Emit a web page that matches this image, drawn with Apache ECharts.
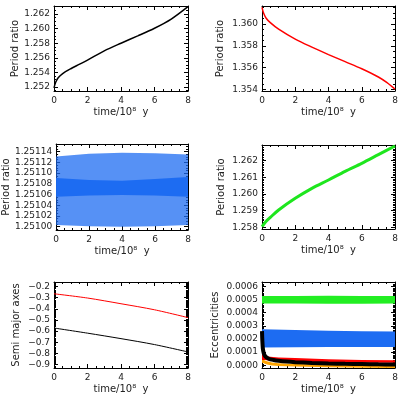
<!DOCTYPE html>
<html>
<head>
<meta charset="utf-8">
<title>Period ratios, semi major axes and eccentricities</title>
<script src="https://cdn.jsdelivr.net/npm/echarts@6/dist/echarts.min.js"></script>
<style>html,body{margin:0;padding:0;background:#fff;}</style>
</head>
<body>
<div id="main" style="width:402px;height:399px;"></div>
<script type="text/javascript">
    // time axis (10^8 yr) ticks
    var timeTicks = [0, 2, 4, 6, 8];

    // top left: period ratio (black)
    var tA = [0, 0.1, 0.25, 0.5, 1, 1.5, 2, 3, 4, 5, 6, 7, 8];
    var ratioBlack = [1.25188, 1.25265, 1.25326, 1.25381, 1.2545, 1.25509, 1.25568, 1.25695, 1.25800, 1.25900, 1.26005, 1.26131, 1.26301];
    var ticksA = [1.252, 1.254, 1.256, 1.258, 1.260, 1.262];

    // top right: period ratio (red)
    var tB = [0, 0.1, 0.25, 0.5, 1, 2, 3, 4, 5, 6, 7, 7.5, 8];
    var ratioRed = [1.36152, 1.36097, 1.36052, 1.36012, 1.35952, 1.35861, 1.35788, 1.35720, 1.35655, 1.35590, 1.35515, 1.35465, 1.35404];
    var ticksB = [1.354, 1.356, 1.358, 1.360];

    // middle left: period ratio cloud (blue), sparse envelope and dense core
    var tC = [0, 2, 4, 6, 8];
    var cloudLow = [1.251003, 1.251001, 1.251000, 1.251001, 1.251003];
    var cloudHigh = [1.251131, 1.251136, 1.251138, 1.251137, 1.251135];
    var coreLow = [1.251056, 1.251058, 1.251059, 1.251058, 1.251056];
    var coreHigh = [1.251091, 1.251087, 1.251086, 1.251089, 1.251093];
    var ticksC = [1.25100, 1.25102, 1.25104, 1.25106, 1.25108, 1.25110, 1.25112, 1.25114];

    // middle right: period ratio (green)
    var tD = [0, 0.25, 0.5, 1, 2, 3, 4, 5, 6, 7, 8];
    var ratioGreen = [1.25804, 1.25836, 1.2586, 1.25904, 1.25974, 1.26034, 1.26084, 1.26136, 1.26184, 1.26236, 1.26288];
    var ticksD = [1.258, 1.259, 1.260, 1.261, 1.262];

    // bottom left: semi major axes
    var tE = [0, 2, 4, 6, 8];
    var semiRed = [-0.266, -0.304, -0.355, -0.409, -0.479];
    var semiBlack = [-0.572, -0.618, -0.667, -0.72, -0.786];
    var ticksE = [-0.9, -0.8, -0.7, -0.6, -0.5, -0.4, -0.3, -0.2];

    // bottom right: eccentricities
    var tF = [0, 2, 4, 6, 8];
    var eccGreenLow = [0.000470, 0.000470, 0.000469, 0.000469, 0.000470];
    var eccGreenHigh = [0.000528, 0.000528, 0.000529, 0.000528, 0.000528];
    var eccBlueLow = [0.000135, 0.000138, 0.000140, 0.000140, 0.000140];
    var eccBlueHigh = [0.000275, 0.000268, 0.000263, 0.000260, 0.000257];
    var tRed = [0, 0.2, 0.5, 1, 2, 4, 6, 8];
    var eccRedLow = [0.00004, 0.00004, 0.000035, 0.00003, 0.000025, 0.00002, 0.00002, 0.00002];
    var eccRedHigh = [0.00009, 0.00007, 0.000065, 0.00006, 0.000055, 0.000045, 0.00004, 0.000038];
    var tOrange = [0, 0.1, 0.3, 0.6, 1, 2, 4, 6, 8];
    var eccOrangeLow = [0.00002, 0.000015, 0.000005, -0.000002, -0.000006, -0.00001, -0.000015, -0.000018, -0.00002];
    var eccOrangeHigh = [0.00005, 0.00004, 0.00003, 0.000022, 0.000016, 0.00001, 0.000005, 0.000002, 0];
    var tBlack = [0, 0.02, 0.05, 0.1, 0.2, 0.4, 0.7, 1, 1.5, 2, 3, 4, 5, 6, 7, 8];
    var eccBlack = [0.00026, 0.00019, 0.00013, 0.000095, 0.000068, 0.00005, 0.00004, 0.000034, 0.000028, 0.000024, 0.000018, 0.000014, 0.000011, 0.000009, 0.000007, 0.000006];
    var ticksF = [0, 0.0001, 0.0002, 0.0003, 0.0004, 0.0005, 0.0006];

    var font = 'DejaVu Sans';
    var xName = 'time/10\u2078  y';

    var grids = [
        {left: 54, top: 6, width: 134, height: 85},
        {left: 262, top: 6, width: 133, height: 85},
        {left: 54, top: 144, width: 134, height: 86},
        {left: 262, top: 145, width: 133, height: 84},
        {left: 54, top: 282, width: 134, height: 86},
        {left: 262, top: 282, width: 133, height: 86}
    ];

    var xAxes = [], yAxes = [];

    // minor tick positions between min and max
    function steps(min, max, step) {
        var out = [];
        var n0 = Math.ceil(min / step - 1e-6), n1 = Math.floor(max / step + 1e-6);
        for (var n = n0; n <= n1; n++) out.push(+(n * step).toFixed(9));
        return out;
    }

    // IDL style box: major + minor ticks on all four sides, pointing inward
    function boxAxes(gi, dim, min, max, major, minorStep, fmt, name, gap) {
        var list = dim === 'x' ? xAxes : yAxes;
        var sides = dim === 'x' ? ['bottom', 'top'] : ['left', 'right'];
        var minor = steps(min, max, minorStep);
        var first = list.length;
        sides.forEach(function (side, s) {
            [major, minor].forEach(function (vals, m) {
                var ax = {
                    gridIndex: gi, type: 'value', position: side, min: min, max: max,
                    silent: true,
                    splitLine: {show: false},
                    axisLine: {show: m === 0, onZero: false, lineStyle: {color: '#000', width: 1}},
                    axisTick: {show: true, inside: true, length: m === 0 ? 4 : 2, customValues: vals,
                        lineStyle: {color: '#000', width: 1}},
                    axisLabel: {show: s === 0 && m === 0, customValues: major, formatter: fmt,
                        color: '#222', fontFamily: font, fontSize: 9, margin: dim === 'x' ? 5 : 4}
                };
                if (s === 0 && m === 0) {
                    ax.name = name;
                    ax.nameLocation = 'middle';
                    ax.nameGap = gap;
                    ax.nameTextStyle = {color: '#222', fontFamily: font, fontSize: 10};
                }
                list.push(ax);
            });
        });
        return first;
    }

    function fmtX(v) { return String(Math.round(v)); }
    function fixed(d) { return function (v) { return v.toFixed(d); }; }
    function fmtNeg(v) { return (v < 0 ? '\u2212' : '') + Math.abs(v).toFixed(1); }

    var panels = [
        {min: 1.25145, max: 1.2631, ticks: ticksA, minor: 0.0005, fmt: fixed(3), name: 'Period ratio', gap: 34},
        {min: 1.35387, max: 1.36164, ticks: ticksB, minor: 0.0005, fmt: fixed(3), name: 'Period ratio', gap: 37},
        {min: 1.2509938, max: 1.2511544, ticks: ticksC, minor: 0.000005, fmt: fixed(5), name: 'Period ratio', gap: 44},
        {min: 1.2579, max: 1.26294, ticks: ticksD, minor: 0.0001, fmt: fixed(3), name: 'Period ratio', gap: 36},
        {min: -0.9295, max: -0.1607, ticks: ticksE, minor: 0.01, fmt: fmtNeg, name: 'Semi major axes', gap: 33},
        {min: -0.0000207, max: 0.000634, ticks: ticksF, minor: 0.00001, fmt: fixed(4), name: 'Eccentricities', gap: 42}
    ];

    var xIdx = [], yIdx = [];
    panels.forEach(function (p, gi) {
        xIdx.push(boxAxes(gi, 'x', 0, 8, timeTicks, 0.5, fmtX, xName, 16));
        yIdx.push(boxAxes(gi, 'y', p.min, p.max, p.ticks, p.minor, p.fmt, p.name, p.gap));
    });

    function line(gi, xs, ys, color, width) {
        return {
            type: 'line', xAxisIndex: xIdx[gi], yAxisIndex: yIdx[gi],
            data: xs.map(function (x, i) { return [x, ys[i]]; }),
            symbol: 'none', smooth: 0.3, silent: true,
            lineStyle: {color: color, width: width}
        };
    }

    // filled band between low and high: one polygon through the axis scales
    function band(gi, xs, low, high, color, opacity) {
        return {
            type: 'custom', xAxisIndex: xIdx[gi], yAxisIndex: yIdx[gi],
            data: xs.map(function (x, i) { return [x, low[i], high[i]]; }),
            encode: {x: 0, y: [1, 2]},
            clip: true, silent: true,
            renderItem: function (params, api) {
                if (params.dataIndexInside !== 0) return null;
                var n = params.dataInsideLength, top = [], bottom = [];
                for (var i = 0; i < n; i++) {
                    top.push(api.coord([api.value(0, i), api.value(2, i)]));
                    bottom.unshift(api.coord([api.value(0, i), api.value(1, i)]));
                }
                return {
                    type: 'polygon',
                    shape: {points: top.concat(bottom)},
                    style: {fill: color, opacity: opacity}
                };
            }
        };
    }

    var blue = '#1d6cf2';
    var series = [
        line(0, tA, ratioBlack, '#000', 1.5),
        line(1, tB, ratioRed, '#ff0000', 1.5),
        band(2, tC, cloudLow, cloudHigh, blue, 0.75),
        band(2, tC, coreLow, coreHigh, blue, 1),
        line(3, tD, ratioGreen, '#1ee61e', 3),
        line(4, tE, semiRed, '#ff0000', 1),
        line(4, tE, semiBlack, '#000', 1),
        band(5, tOrange, eccOrangeLow, eccOrangeHigh, '#ffa500', 1),
        band(5, tRed, eccRedLow, eccRedHigh, '#ff0000', 1),
        line(5, tBlack, eccBlack, '#000', 4),
        band(5, tF, eccBlueLow, eccBlueHigh, blue, 1),
        band(5, tF, eccGreenLow, eccGreenHigh, '#22ee22', 1)
    ];

    var option = {
        animation: false,
        backgroundColor: '#fff',
        grid: grids,
        xAxis: xAxes,
        yAxis: yAxes,
        series: series
    };

    var myChart = echarts.init(document.getElementById('main'));
    myChart.setOption(option);
</script>
</body>
</html>
